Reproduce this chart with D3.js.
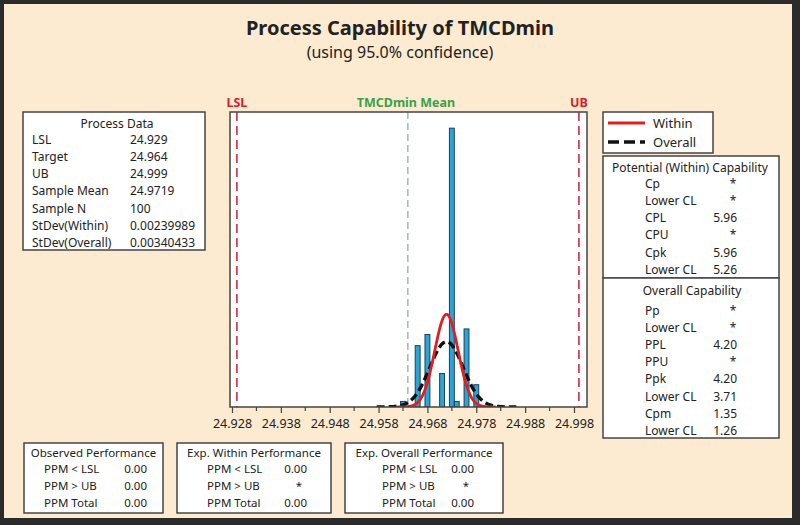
<!DOCTYPE html>
<html>
<head>
<meta charset="utf-8">
<script src="https://cdn.jsdelivr.net/npm/d3@7"></script>
<style>
  html, body { margin: 0; padding: 0; background: #2b2b2b; }
  svg { display: block; }
  text { font-family: "Noto Sans", "DejaVu Sans", sans-serif; fill: #222; }
</style>
</head>
<body>
<svg id="chart" width="800" height="525"></svg>
<script>
// Process data
const LSL = 24.929;
const target = 24.964;
const UB = 24.999;
const sampleMean = 24.9719;
const sampleN = 100;
const sdWithin = 0.00239989;
const sdOverall = 0.00340433;

// Histogram: bin centres (width 0.001) and counts
const binWidth = 0.001;
const binCenters = [24.963, 24.966, 24.968, 24.971, 24.973, 24.974, 24.976, 24.978];
const binCounts = [1, 11, 13, 6, 50, 1, 14, 4];

// Axis ticks
const majorTicks = [24.928, 24.938, 24.948, 24.958, 24.968, 24.978, 24.988, 24.998];
const minorTicks = [24.933, 24.943, 24.953, 24.963, 24.973, 24.983, 24.993];

// Summary tables
const processRows = [
  ["LSL", "24.929"], ["Target", "24.964"], ["UB", "24.999"],
  ["Sample Mean", "24.9719"], ["Sample N", "100"],
  ["StDev(Within)", "0.00239989"], ["StDev(Overall)", "0.00340433"]
];
const withinCapRows = [
  ["Cp", "*"], ["Lower CL", "*"], ["CPL", "5.96"], ["CPU", "*"],
  ["Cpk", "5.96"], ["Lower CL", "5.26"]
];
const overallCapRows = [
  ["Pp", "*"], ["Lower CL", "*"], ["PPL", "4.20"], ["PPU", "*"],
  ["Ppk", "4.20"], ["Lower CL", "3.71"], ["Cpm", "1.35"], ["Lower CL", "1.26"]
];
const perfTitles = ["Observed Performance", "Exp. Within Performance", "Exp. Overall Performance"];
const perfLabels = ["PPM < LSL", "PPM > UB", "PPM Total"];
const perfValues = [["0.00", "0.00", "0.00"], ["0.00", "*", "0.00"], ["0.00", "*", "0.00"]];

const svg = d3.select("#chart");
const BG = "#fcebd0";
const BORDER = "#444";

svg.append("rect").attr("x", 0).attr("y", 0).attr("width", 800).attr("height", 525).attr("fill", "#2b2b2b");
svg.append("rect").attr("x", 4).attr("y", 4).attr("width", 788).attr("height", 514).attr("fill", BG);

// Titles
svg.append("text").attr("x", 400).attr("y", 35).attr("text-anchor", "middle")
  .attr("font-size", 20).attr("font-weight", "bold").text("Process Capability of TMCDmin");
svg.append("text").attr("x", 400).attr("y", 58).attr("text-anchor", "middle")
  .attr("font-size", 16).text("(using 95.0% confidence)");

// Plot area
const plot = { left: 230, top: 112, right: 587, bottom: 407 };
const x = d3.scaleLinear().domain([24.928, 24.998]).range([232, 574]);
const y = d3.scaleLinear().domain([0, 52.9]).range([plot.bottom, plot.top]);

svg.append("rect").attr("x", plot.left).attr("y", plot.top)
  .attr("width", plot.right - plot.left).attr("height", plot.bottom - plot.top)
  .attr("fill", "#fff");

svg.append("clipPath").attr("id", "plotClip").append("rect")
  .attr("x", plot.left).attr("y", plot.top)
  .attr("width", plot.right - plot.left).attr("height", plot.bottom - plot.top);
const g = svg.append("g").attr("clip-path", "url(#plotClip)");

// Spec and target reference lines
g.selectAll("line.spec").data([LSL, UB]).join("line").attr("class", "spec")
  .attr("x1", d => x(d)).attr("x2", d => x(d))
  .attr("y1", plot.top).attr("y2", plot.bottom)
  .attr("stroke", "#d2405e").attr("stroke-width", 1.8).attr("stroke-dasharray", "9,5");
g.append("line")
  .attr("x1", x(target)).attr("x2", x(target))
  .attr("y1", plot.top).attr("y2", plot.bottom)
  .attr("stroke", "#7f9f90").attr("stroke-width", 1.1).attr("stroke-dasharray", "7,4");

// Histogram bars
g.selectAll("rect.bar").data(binCenters).join("rect").attr("class", "bar")
  .attr("x", d => x(d - binWidth / 2))
  .attr("width", d => x(d + binWidth / 2) - x(d - binWidth / 2))
  .attr("y", (d, i) => y(binCounts[i]))
  .attr("height", (d, i) => y(0) - y(binCounts[i]))
  .attr("fill", "#2ba5d8").attr("stroke", "#1d3f58").attr("stroke-width", 1);

// Fitted normal curves, scaled to counts per bin
function normalCurve(sd) {
  const pts = [];
  const lo = sampleMean - 4.2 * sd, hi = sampleMean + 4.2 * sd;
  for (let k = 0; k <= 200; k++) {
    const v = lo + (hi - lo) * k / 200;
    const z = (v - sampleMean) / sd;
    const dens = Math.exp(-0.5 * z * z) / (sd * Math.sqrt(2 * Math.PI));
    pts.push([v, sampleN * binWidth * dens]);
  }
  return pts;
}
const line = d3.line().x(d => x(d[0])).y(d => y(d[1])).curve(d3.curveBasis);
g.append("path").datum(normalCurve(sdOverall)).attr("d", line)
  .attr("fill", "none").attr("stroke", "#111").attr("stroke-width", 3.4)
  .attr("stroke-dasharray", "8,4");
g.append("path").datum(normalCurve(sdWithin)).attr("d", line)
  .attr("fill", "none").attr("stroke", "#e02020").attr("stroke-width", 2.8);

// Frame and axis
svg.append("rect").attr("x", plot.left).attr("y", plot.top)
  .attr("width", plot.right - plot.left).attr("height", plot.bottom - plot.top)
  .attr("fill", "none").attr("stroke", BORDER).attr("stroke-width", 1.5);

const axis = svg.append("g").attr("transform", `translate(0,${plot.bottom})`)
  .call(d3.axisBottom(x).tickValues(majorTicks).tickFormat(d3.format(".3f")).tickSize(6).tickSizeOuter(0));
axis.select(".domain").remove();
axis.selectAll("line").attr("stroke", BORDER).attr("stroke-width", 1.2);
axis.selectAll("text").attr("font-size", 12.5).attr("dy", "0.95em")
  .style("font-family", "'Noto Sans', sans-serif").attr("fill", "#222");
svg.append("g").selectAll("line").data(minorTicks).join("line")
  .attr("x1", d => x(d)).attr("x2", d => x(d))
  .attr("y1", plot.bottom).attr("y2", plot.bottom + 4)
  .attr("stroke", BORDER).attr("stroke-width", 1.2);

// Reference line labels
svg.append("text").attr("x", x(LSL)).attr("y", 107).attr("text-anchor", "middle")
  .attr("font-size", 12.5).attr("font-weight", "bold").style("fill", "#d8202a").text("LSL");
svg.append("text").attr("x", x(UB)).attr("y", 107).attr("text-anchor", "middle")
  .attr("font-size", 12.5).attr("font-weight", "bold").style("fill", "#d8202a").text("UB");
svg.append("text").attr("x", x(target) - 2).attr("y", 107).attr("text-anchor", "middle")
  .attr("font-size", 12.5).attr("font-weight", "bold").style("fill", "#3aa04a").text("TMCDmin Mean");

function box(x0, y0, w, h) {
  svg.append("rect").attr("x", x0).attr("y", y0).attr("width", w).attr("height", h)
    .attr("fill", "#fff").attr("stroke", BORDER).attr("stroke-width", 1.5);
}
const FS = 12;

// Process Data box
box(23, 112, 182, 138);
svg.append("text").attr("x", 117).attr("y", 127.5).attr("text-anchor", "middle")
  .attr("font-size", FS).text("Process Data");
processRows.forEach((r, i) => {
  const yy = 143.5 + i * 17.3;
  svg.append("text").attr("x", 32).attr("y", yy).attr("font-size", FS).text(r[0]);
  svg.append("text").attr("x", 130).attr("y", yy).attr("font-size", FS).text(r[1]);
});

// Legend
box(603, 112, 110, 41);
svg.append("line").attr("x1", 608).attr("x2", 645).attr("y1", 123).attr("y2", 123)
  .attr("stroke", "#e02020").attr("stroke-width", 2.8);
svg.append("line").attr("x1", 608).attr("x2", 645).attr("y1", 142).attr("y2", 142)
  .attr("stroke", "#111").attr("stroke-width", 3.4).attr("stroke-dasharray", "11,5");
svg.append("text").attr("x", 653).attr("y", 127.5).attr("font-size", 13).text("Within");
svg.append("text").attr("x", 653).attr("y", 146.5).attr("font-size", 13).text("Overall");

// Capability boxes
box(603, 156, 176, 122);
box(603, 278, 176, 160);
svg.append("text").attr("x", 690).attr("y", 172).attr("text-anchor", "middle")
  .attr("font-size", FS).text("Potential (Within) Capability");
withinCapRows.forEach((r, i) => {
  const yy = 187.5 + i * 17.3;
  svg.append("text").attr("x", 645).attr("y", yy).attr("font-size", FS).text(r[0]);
  svg.append("text").attr("x", r[1] === "*" ? 733 : 737).attr("y", yy)
    .attr("text-anchor", r[1] === "*" ? "middle" : "end").attr("font-size", FS).text(r[1]);
});
svg.append("text").attr("x", 692).attr("y", 294.5).attr("text-anchor", "middle")
  .attr("font-size", FS).text("Overall Capability");
overallCapRows.forEach((r, i) => {
  const yy = 314.5 + i * 17.2;
  svg.append("text").attr("x", 645).attr("y", yy).attr("font-size", FS).text(r[0]);
  svg.append("text").attr("x", r[1] === "*" ? 733 : 737).attr("y", yy)
    .attr("text-anchor", r[1] === "*" ? "middle" : "end").attr("font-size", FS).text(r[1]);
});

// Performance boxes
const PFS = 11.5;
const perfBoxes = [
  { x0: 24, w: 139, labelX: 44, valueX: 147 },
  { x0: 177, w: 154, labelX: 207, valueX: 307 },
  { x0: 345, w: 158, labelX: 382, valueX: 474 }
];
perfBoxes.forEach((b, j) => {
  box(b.x0, 443, b.w, 70);
  svg.append("text").attr("x", b.x0 + b.w / 2).attr("y", 456.5).attr("text-anchor", "middle")
    .attr("font-size", PFS).text(perfTitles[j]);
  perfLabels.forEach((lab, i) => {
    const yy = 473 + i * 17;
    svg.append("text").attr("x", b.labelX).attr("y", yy).attr("font-size", PFS).text(lab);
    const v = perfValues[j][i];
    svg.append("text").attr("x", v === "*" ? b.valueX - 8 : b.valueX).attr("y", yy)
      .attr("text-anchor", v === "*" ? "middle" : "end").attr("font-size", PFS).text(v);
  });
});
</script>
</body>
</html>
